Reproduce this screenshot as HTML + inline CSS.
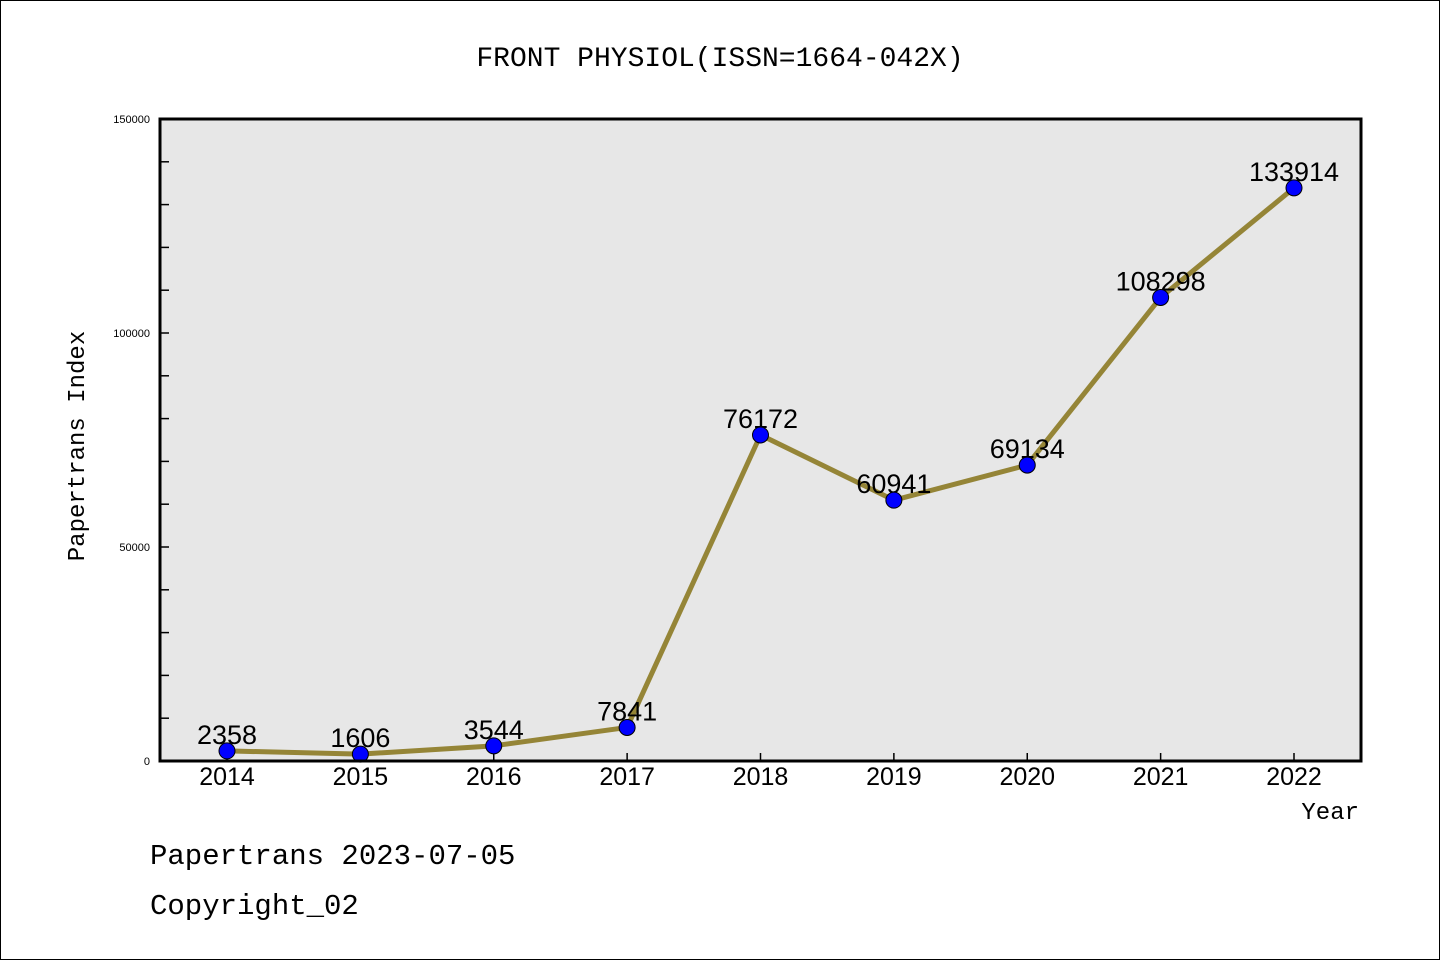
<!DOCTYPE html>
<html><head><meta charset="utf-8"><style>
html,body{margin:0;padding:0;background:#fff;}
svg{display:block;font-family:"Liberation Mono","DejaVu Sans Mono",monospace;}
</style></head><body>
<svg id="chart" width="1440" height="960" viewBox="0 0 1440 960" xmlns="http://www.w3.org/2000/svg">
<rect x="0.5" y="0.5" width="1439" height="959" fill="#fff" stroke="#000"/>
<text x="720" y="66" text-anchor="middle" font-size="28">FRONT PHYSIOL(ISSN=1664-042X)</text>
<rect x="160" y="119" width="1201" height="642" fill="#e7e7e7"/>
<g id="ticks"></g>
<g id="series"></g>
<rect x="160" y="119" width="1201" height="642" fill="none" stroke="#000" stroke-width="3"/>
<text transform="translate(84,446) rotate(-90)" text-anchor="middle" font-size="24">Papertrans Index</text>
<text x="1359" y="819" text-anchor="end" font-size="24">Year</text>
<text x="150" y="864" font-size="29">Papertrans 2023-07-05</text>
<text x="150" y="914" font-size="29">Copyright_02</text>
</svg>
<script>
const years = ["2014","2015","2016","2017","2018","2019","2020","2021","2022"];
const values = [2358,1606,3544,7841,76172,60941,69134,108298,133914];
const yTickLabels = ["0","50000","100000","150000"];
const yMajor = [0,50000,100000,150000];
const yMax = 150000;
const NS="http://www.w3.org/2000/svg";
const x0=227, dx=(1294-227)/8, yb=761, yt=119;
const xs=i=>x0+i*dx;
const ys=v=>yb-(v/yMax)*(yb-yt);
function mk(tag,attrs,parent){const e=document.createElementNS(NS,tag);for(const k in attrs)e.setAttribute(k,attrs[k]);parent.appendChild(e);return e;}
const tg=document.getElementById('ticks'), sg=document.getElementById('series');
for(let v=10000; v<yMax; v+=10000){
  const t=mk('line',{x1:160,x2:169,y1:ys(v),y2:ys(v),stroke:'#000','stroke-width':1.5},tg);
  
  
}
yMajor.forEach((v,i)=>{
  const t=mk('text',{x:150,y:ys(v)+4,'text-anchor':'end','font-size':11,'font-family':'Liberation Sans, sans-serif'},tg);
  t.textContent=yTickLabels[i];
  
  
});
years.forEach((y,i)=>{
  const tk=mk('line',{x1:xs(i),x2:xs(i),y1:761,y2:753,stroke:'#000','stroke-width':1.5},tg);
  
  
  const t=mk('text',{x:xs(i),y:785,'text-anchor':'middle','font-size':25,'font-family':'Liberation Sans, sans-serif'},tg);
  t.textContent=y;
  
  
});
const pl=mk('polyline',{points:values.map((v,i)=>xs(i)+','+ys(v)).join(' '),fill:'none',stroke:'#958537','stroke-width':5,'stroke-linejoin':'round'},sg);


values.forEach((v,i)=>{
  const lb=mk('text',{x:xs(i),y:ys(v)-7,'text-anchor':'middle','font-size':27,'font-family':'Liberation Sans, sans-serif'},sg);
  lb.textContent=v;
  
  
});
values.forEach((v,i)=>{
  const c=mk('circle',{cx:xs(i),cy:ys(v),r:8,fill:'#0000ff',stroke:'#000','stroke-width':1},sg);
  
  
});
</script>
</body></html>
